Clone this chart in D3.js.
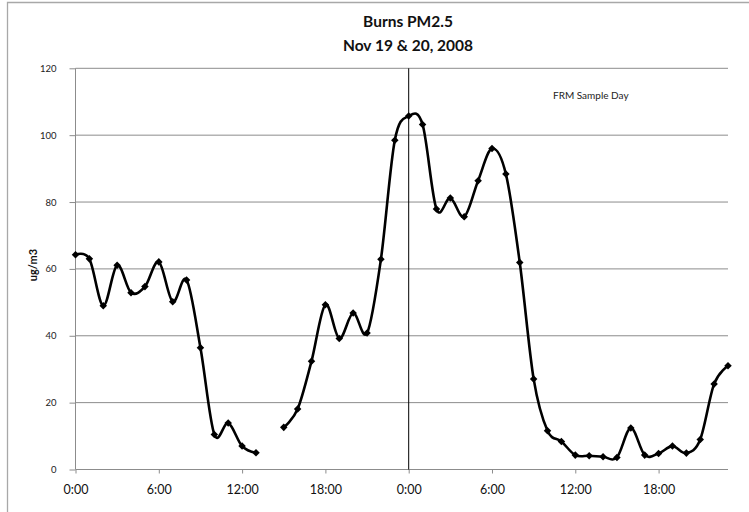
<!DOCTYPE html>
<html>
<head>
<meta charset="utf-8">
<script src="https://cdn.jsdelivr.net/npm/d3@7"></script>
<style>
  html, body { margin: 0; padding: 0; background: #fff; }
  svg { display: block; }
</style>
</head>
<body>
<svg id="chart" width="749" height="512"></svg>
<script>
// ---- data ----
const hours = d3.range(0, 48); // hourly categories, Nov 19 0:00 .. Nov 20 23:00
const pm25 = [64.2, 63.0, 49.0, 61.1, 52.9, 54.7, 62.1, 50.2, 56.7, 36.4,
              10.5, 13.9, 7.0, 5.0, null, 12.6, 18.1, 32.4, 49.3, 39.2,
              46.8, 40.8, 62.9, 98.5, 105.7, 103.2, 77.9, 81.2, 75.6, 86.4,
              96.0, 88.4, 61.9, 27.1, 11.6, 8.4, 4.3, 4.1, 3.8, 3.6,
              12.4, 4.3, 4.8, 7.0, 4.9, 9.0, 25.6, 31.0];
const xTickHours = [0, 6, 12, 18, 24, 30, 36, 42];
const xTickLabels = ["0:00", "6:00", "12:00", "18:00", "0:00", "6:00", "12:00", "18:00"];
const yTicks = [0, 20, 40, 60, 80, 100, 120];
const frmDividerHour = 24;
const titleLines = ["Burns PM2.5", "Nov 19 & 20, 2008"];
const yAxisTitle = "ug/m3";
const annotation = "FRM Sample Day";

// ---- layout ----
const svg = d3.select("#chart");
const font = "Lato, 'Liberation Sans', sans-serif";
const x = d3.scaleLinear().domain([0, 47]).range([75.5, 728]);
const y = d3.scaleLinear().domain([0, 120]).range([469.5, 68.3]);

// outer chart border (top and left visible)
svg.append("path")
  .attr("d", "M7.5,512 L7.5,2.5 L749,2.5")
  .attr("fill", "none").attr("stroke", "#a8a8a8").attr("stroke-width", 1.3);

// gridlines
svg.append("g").selectAll("line").data(yTicks.filter(v => v > 0)).join("line")
  .attr("x1", x(0)).attr("x2", x(47))
  .attr("y1", d => y(d)).attr("y2", d => y(d))
  .attr("stroke", "#8c8c8c").attr("stroke-width", 1);

// y axis
const yAxis = d3.axisLeft(y).tickValues(yTicks).tickSize(6).tickPadding(13);
const gy = svg.append("g").attr("transform", `translate(${x(0)},0)`).call(yAxis);
gy.select(".domain").attr("stroke", "#8c8c8c").attr("d", `M0,${y(0)}V${y(120)}`);
gy.selectAll(".tick line").attr("stroke", "#8c8c8c");
gy.selectAll(".tick text").attr("font-family", font).attr("font-size", 9.5).attr("fill", "#222");

// x axis
const xAxis = d3.axisBottom(x).tickValues(xTickHours)
  .tickFormat((d, i) => xTickLabels[i]).tickSize(4).tickPadding(12);
const gx = svg.append("g").attr("transform", `translate(0,${y(0)})`).call(xAxis);
gx.select(".domain").attr("stroke", "#8c8c8c").attr("d", `M${x(0)},0H${x(47)}`);
gx.selectAll(".tick line").attr("stroke", "#8c8c8c");
gx.selectAll(".tick text").attr("font-family", font).attr("font-size", 12.5).attr("fill", "#111");

// FRM divider
svg.append("line")
  .attr("x1", x(frmDividerHour)).attr("x2", x(frmDividerHour))
  .attr("y1", y(120)).attr("y2", y(0))
  .attr("stroke", "#000").attr("stroke-width", 1);

// data line
const pts = hours.map((h, i) => ({ h, v: pm25[i] }));
const line = d3.line()
  .defined(d => d.v !== null)
  .x(d => x(d.h)).y(d => y(d.v))
  .curve(d3.curveCardinal.tension(0));
svg.append("path").datum(pts)
  .attr("d", line)
  .attr("fill", "none").attr("stroke", "#000").attr("stroke-width", 2.6)
  .attr("stroke-linejoin", "round");

// diamond markers
svg.append("g").selectAll("path").data(pts.filter(d => d.v !== null)).join("path")
  .attr("transform", d => `translate(${x(d.h)},${y(d.v)})`)
  .attr("d", d3.symbol(d3.symbolDiamond2, 36))
  .attr("fill", "#000");

// titles
svg.append("g").selectAll("text").data(titleLines).join("text")
  .attr("x", 408).attr("y", (d, i) => 27 + i * 24)
  .attr("text-anchor", "middle")
  .attr("font-family", font).attr("font-weight", "bold").attr("font-size", 15.5)
  .attr("fill", "#111").text(d => d);

svg.append("text")
  .attr("transform", "translate(37,265) rotate(-90)")
  .attr("text-anchor", "middle")
  .attr("font-family", font).attr("font-weight", "bold").attr("font-size", 11)
  .attr("fill", "#111").text(yAxisTitle);

svg.append("text")
  .attr("x", 553).attr("y", 99)
  .attr("font-family", font).attr("font-size", 10)
  .attr("fill", "#222").text(annotation);
</script>
</body>
</html>
